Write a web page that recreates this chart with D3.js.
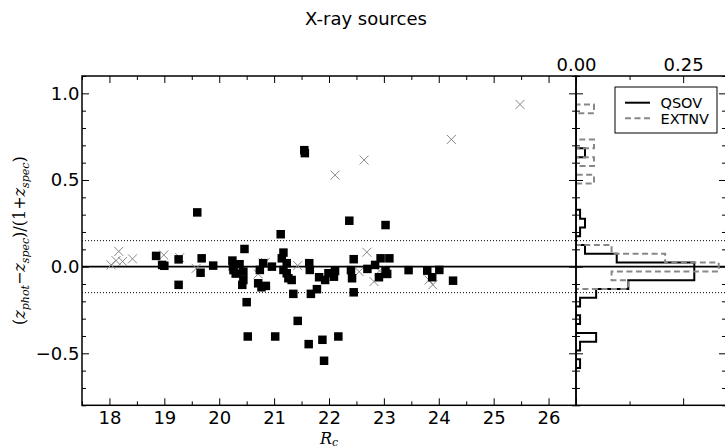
<!DOCTYPE html>
<html><head><meta charset="utf-8">
<script src="https://cdn.jsdelivr.net/npm/d3@7"></script>
<style>body{margin:0;background:#fff} svg{display:block}</style>
</head><body>
<svg id="fig" width="725" height="448"></svg>
<script>
// Photometric redshift residuals of X-ray sources vs R_c magnitude
const qsovR  = [18.85, 18.96, 19.00, 19.26, 19.26, 19.60, 19.68, 19.66, 19.89, 20.24,
                20.26, 20.30, 20.37, 20.44, 20.44, 20.42, 20.46, 20.50, 20.52, 20.25,
                21.12, 21.17, 21.14, 21.23, 21.17, 21.23, 21.26, 21.32, 21.35, 21.43,
                21.02, 20.71, 20.77, 20.85, 20.74, 20.80, 20.96, 21.64, 21.65, 21.82,
                21.93, 21.99, 22.11, 22.09, 21.78, 21.67, 21.63, 21.88, 21.91, 22.17,
                22.37, 23.03, 22.45, 22.42, 22.45, 22.70, 22.84, 22.94, 23.10, 23.03,
                23.06, 22.91, 23.45, 21.55, 21.56, 23.79, 24.01, 23.88, 24.26, 22.40];
const qsovDz = [0.062, 0.010, 0.005, 0.042, -0.105, 0.313, 0.048, -0.035, 0.006, 0.035,
                -0.020, -0.040, 0.014, -0.029, -0.077, -0.105, 0.102, -0.205, -0.403, 0.000,
                0.187, 0.081, 0.048, 0.020, -0.019, -0.038, -0.067, -0.077, -0.157, -0.313,
                -0.403, -0.096, -0.119, -0.111, -0.019, 0.020, 0.000, 0.020, -0.019, -0.061,
                -0.077, -0.038, -0.025, -0.058, -0.130, -0.157, -0.447, -0.422, -0.543, -0.403,
                0.265, 0.240, 0.043, -0.067, -0.148, -0.013, 0.010, 0.048, 0.048, -0.025,
                -0.042, -0.061, -0.020, 0.672, 0.655, -0.023, -0.019, -0.061, -0.081, -0.020];

const extnvR  = [18.03, 18.12, 18.17, 18.24, 18.42, 18.99, 19.28, 19.58, 20.71, 20.80,
                 20.84, 21.43, 22.11, 22.64, 22.69, 22.55, 22.82, 22.92, 23.82, 23.89,
                 24.23, 25.48];
const extnvDz = [0.010, 0.035, 0.088, 0.030, 0.045, 0.067, 0.052, -0.010, -0.042, 0.020,
                 0.024, 0.006, 0.528, 0.615, 0.083, -0.029, -0.086, -0.025, -0.077, -0.105,
                 0.734, 0.936];

// Histogram bins (fraction of each class per bin)
const histStart = -0.585;
const histWidth = 0.0507;
const qsovHist  = [0.0095, 0, 0.0095, 0.047, 0, 0.0095, 0, 0.0095, 0.047, 0.122,
                   0.276, 0.276, 0.095, 0.021, 0, 0.0095, 0.021, 0.0095, 0, 0,
                   0, 0, 0, 0, 0.021, 0, 0, 0, 0, 0, 0];
const extnvHist = [0, 0, 0, 0, 0, 0, 0, 0, 0, 0.122,
                   0.083, 0.333, 0.208, 0.083, 0, 0, 0, 0, 0, 0,
                   0, 0.042, 0, 0.042, 0, 0.042, 0, 0, 0, 0.042, 0];

const xMajor = [18, 19, 20, 21, 22, 23, 24, 25, 26];
const xMinor = [17.5, 18.5, 19.5, 20.5, 21.5, 22.5, 23.5, 24.5, 25.5, 26.5];
const yMajor = [-0.5, 0.0, 0.5, 1.0];
const yMinor = [-0.8, -0.7, -0.6, -0.4, -0.3, -0.2, -0.1, 0.1, 0.2, 0.3, 0.4, 0.6, 0.7, 0.8, 0.9, 1.1];
const hMajor = [0, 0.25];
const hMinor = [0.125];
const outlierCut = 0.15;

const svg = d3.select("#fig");
const L = 82, R = 576, T = 76, B = 405.3, HR = 726;
const x = d3.scaleLinear().domain([17.5, 26.5]).range([L, R]);
const y = d3.scaleLinear().domain([-0.8, 1.1]).range([B, T]);
const hx = d3.scaleLinear().domain([0, 0.35]).range([R, HR]);
const font = "'DejaVu Sans', sans-serif";
const minus = s => s.replace("-", "\u2212");

function styleAxis(g) {
  g.select(".domain").remove();
  g.selectAll(".tick line").attr("stroke", "#000").attr("stroke-width", 1);
  g.selectAll(".tick text").attr("font-family", font).attr("font-size", 18).attr("fill", "#000");
}

// main panel ticks (inward)
svg.append("g").attr("transform", `translate(0,${B})`)
  .call(d3.axisBottom(x).tickValues(xMajor).tickSize(-7).tickPadding(5.5).tickFormat(d3.format("d"))).call(styleAxis);
svg.append("g").attr("transform", `translate(0,${B})`)
  .call(d3.axisBottom(x).tickValues(xMinor).tickSize(-4).tickFormat("")).call(styleAxis);
svg.append("g").attr("transform", `translate(0,${T})`)
  .call(d3.axisTop(x).tickValues(xMajor).tickSize(-7).tickFormat("")).call(styleAxis);
svg.append("g").attr("transform", `translate(0,${T})`)
  .call(d3.axisTop(x).tickValues(xMinor).tickSize(-4).tickFormat("")).call(styleAxis);
svg.append("g").attr("transform", `translate(${L},0)`)
  .call(d3.axisLeft(y).tickValues(yMajor).tickSize(-7).tickPadding(2.5).tickFormat(d => minus(d3.format(".1f")(d)))).call(styleAxis);
svg.append("g").attr("transform", `translate(${L},0)`)
  .call(d3.axisLeft(y).tickValues(yMinor).tickSize(-4).tickFormat("")).call(styleAxis);
// shared spine: ticks on both sides
[[d3.axisRight, -7, yMajor], [d3.axisRight, -4, yMinor], [d3.axisLeft, -7, yMajor], [d3.axisLeft, -4, yMinor]]
  .forEach(([ax, s, v]) => svg.append("g").attr("transform", `translate(${R},0)`)
    .call(ax(y).tickValues(v).tickSize(s).tickFormat("")).call(styleAxis));
svg.append("g").attr("transform", `translate(${HR},0)`)
  .call(d3.axisRight(y).tickValues(yMajor).tickSize(-7).tickFormat("")).call(styleAxis);
svg.append("g").attr("transform", `translate(${HR},0)`)
  .call(d3.axisRight(y).tickValues(yMinor).tickSize(-4).tickFormat("")).call(styleAxis);

// histogram panel x ticks
svg.append("g").attr("transform", `translate(0,${T})`)
  .call(d3.axisTop(hx).tickValues(hMajor).tickSize(-7).tickPadding(5.5).tickFormat(d3.format(".2f"))).call(styleAxis);
svg.append("g").attr("transform", `translate(0,${T})`)
  .call(d3.axisTop(hx).tickValues(hMinor).tickSize(-4).tickFormat("")).call(styleAxis);
svg.append("g").attr("transform", `translate(0,${B})`)
  .call(d3.axisBottom(hx).tickValues(hMajor).tickSize(-7).tickFormat("")).call(styleAxis);
svg.append("g").attr("transform", `translate(0,${B})`)
  .call(d3.axisBottom(hx).tickValues(hMinor).tickSize(-4).tickFormat("")).call(styleAxis);

// reference lines across both panels
svg.append("line").attr("x1", L).attr("x2", HR).attr("y1", y(0)).attr("y2", y(0))
  .attr("stroke", "#000").attr("stroke-width", 1.6);
[outlierCut, -outlierCut].forEach(v => svg.append("line")
  .attr("x1", L).attr("x2", HR).attr("y1", y(v)).attr("y2", y(v))
  .attr("stroke", "#000").attr("stroke-width", 1).attr("stroke-dasharray", "1,2"));

// clip regions
const defs = svg.append("defs");
defs.append("clipPath").attr("id", "clipMain").append("rect").attr("x", L).attr("y", T).attr("width", R - L).attr("height", B - T);
defs.append("clipPath").attr("id", "clipHist").append("rect").attr("x", R).attr("y", T).attr("width", HR - R).attr("height", B - T);

// scatter: EXTNV crosses, QSOV squares
const gm = svg.append("g").attr("clip-path", "url(#clipMain)");
const cs = 4.5;
gm.selectAll("path.ext").data(d3.range(extnvR.length)).join("path")
  .attr("class", "ext")
  .attr("d", i => { const cx = x(extnvR[i]), cy = y(extnvDz[i]);
    return `M${cx - cs},${cy - cs}L${cx + cs},${cy + cs}M${cx - cs},${cy + cs}L${cx + cs},${cy - cs}`; })
  .attr("stroke", "#888").attr("stroke-width", 1).attr("fill", "none");
const sq = 8.5;
gm.selectAll("rect.qso").data(d3.range(qsovR.length)).join("rect")
  .attr("class", "qso")
  .attr("x", i => x(qsovR[i]) - sq / 2).attr("y", i => y(qsovDz[i]) - sq / 2)
  .attr("width", sq).attr("height", sq).attr("fill", "#000");

// histograms (step outlines, horizontal)
const edge = i => histStart + i * histWidth;
function stepPath(vals) {
  const pts = [[0, edge(0)]];
  vals.forEach((v, i) => { pts.push([v, edge(i)]); pts.push([v, edge(i + 1)]); });
  pts.push([0, edge(vals.length)]);
  return d3.line().x(d => hx(d[0])).y(d => y(d[1]))(pts);
}
const gh = svg.append("g").attr("clip-path", "url(#clipHist)");
gh.append("path").attr("d", stepPath(qsovHist)).attr("fill", "none")
  .attr("stroke", "#000").attr("stroke-width", 2);
gh.append("path").attr("d", stepPath(extnvHist)).attr("fill", "none")
  .attr("stroke", "#888").attr("stroke-width", 2).attr("stroke-dasharray", "6,3.5");

// spines
[[L, R], [R, HR]].forEach(([a, b]) => svg.append("rect")
  .attr("x", a).attr("y", T).attr("width", b - a).attr("height", B - T)
  .attr("fill", "none").attr("stroke", "#000").attr("stroke-width", 1.5));

// legend
const lg = svg.append("g");
lg.append("rect").attr("x", 615).attr("y", 87).attr("width", 102).attr("height", 46)
  .attr("fill", "#fff").attr("stroke", "#000").attr("stroke-width", 1);
const legendItems = [["QSOV", "#000", null], ["EXTNV", "#888", "6,3.5"]];
legendItems.forEach(([name, col, dash], i) => {
  const yy = 102.7 + i * 15.6;
  lg.append("line").attr("x1", 625).attr("x2", 650).attr("y1", yy).attr("y2", yy)
    .attr("stroke", col).attr("stroke-width", 2).attr("stroke-dasharray", dash);
  lg.append("text").attr("x", 660.5).attr("y", yy + 5.4).text(name)
    .attr("font-family", font).attr("font-size", 14.5).attr("fill", "#000");
});

// title
svg.append("text").attr("x", 366).attr("y", 25).attr("text-anchor", "middle")
  .attr("font-family", font).attr("font-size", 18).text("X-ray sources");

// axis labels (math style)
const serif = "'DejaVu Serif', 'Liberation Serif', serif";
const xl = svg.append("text").attr("x", (L + R) / 2).attr("y", 443.5).attr("text-anchor", "middle")
  .attr("font-family", serif).attr("font-size", 16);
xl.append("tspan").attr("font-style", "italic").text("R");
xl.append("tspan").attr("font-style", "italic").attr("font-size", 11).attr("dy", 2.5).text("c");

const yl = svg.append("text").attr("transform", `translate(25,${(T + B) / 2}) rotate(-90)`)
  .attr("text-anchor", "middle").attr("font-family", serif).attr("font-size", 16);
const parts = [
  ["(", 0, null], ["z", 0, "i"], ["phot", 4, "s"], ["\u2212", -4, null], ["z", 0, "i"], ["spec", 4, "s"],
  [")/(1+", -4, null], ["z", 0, "i"], ["spec", 4, "s"], [")", -4, null]
];
parts.forEach(([t, dy, kind]) => {
  const s = yl.append("tspan").attr("dy", dy).text(t);
  if (kind) s.attr("font-style", "italic");
  if (kind === "s") s.attr("font-size", 11);
});
</script>
</body></html>
